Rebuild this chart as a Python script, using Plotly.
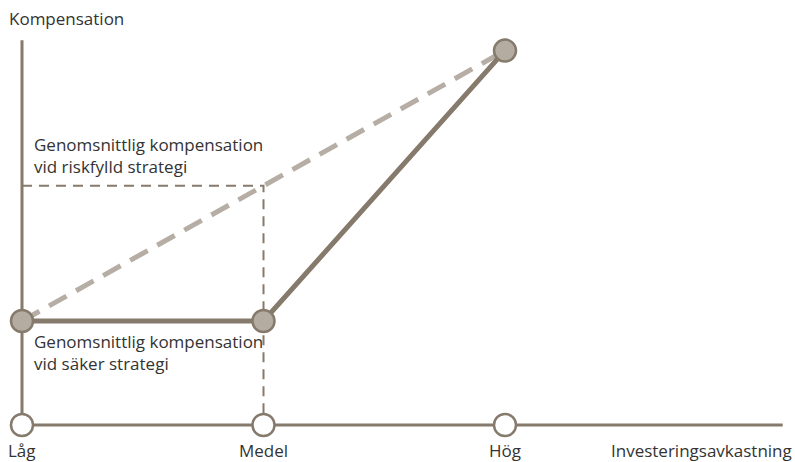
import plotly.graph_objects as go

categories = ["Låg", "Medel", "Hög"]
cat_x = [0, 1, 2]
compensation = [1.0, 1.0, 3.6]          # payout curve (solid)
risky_ends_x = [0, 2]
risky_ends_y = [1.0, 3.6]               # risky strategy outcomes (dashed)
avg_risky = (risky_ends_y[0] + risky_ends_y[1]) / 2
avg_safe = compensation[1]

axis_x_max = 3.15
axis_y_max = 3.7

DARK = "#857a6c"
LIGHT = "#b6aea4"
FILL = "#b5aca1"
TXT = "#333333"
FONT = "Open Sans"

fig = go.Figure()

# guides
fig.add_trace(go.Scatter(x=[0, 1, 1], y=[avg_risky, avg_risky, 0], mode="lines",
                         line=dict(color=DARK, width=2, dash="10px,7px"), hoverinfo="skip"))
# risky dashed
fig.add_trace(go.Scatter(x=risky_ends_x, y=risky_ends_y, mode="lines",
                         line=dict(color=LIGHT, width=5, dash="20px,11px"), hoverinfo="skip"))
# axes
fig.add_trace(go.Scatter(x=[0, 0], y=[axis_y_max, 0], mode="lines",
                         line=dict(color=DARK, width=3), hoverinfo="skip"))
fig.add_trace(go.Scatter(x=[0, axis_x_max], y=[0, 0], mode="lines",
                         line=dict(color=DARK, width=3), hoverinfo="skip"))
# compensation curve
fig.add_trace(go.Scatter(x=cat_x, y=compensation, mode="lines",
                         line=dict(color=DARK, width=5), hoverinfo="skip"))
fig.add_trace(go.Scatter(x=cat_x, y=compensation, mode="markers",
                         marker=dict(size=22, color=FILL, line=dict(color=DARK, width=2.5)),
                         hoverinfo="skip"))
# category markers on x axis
fig.add_trace(go.Scatter(x=cat_x, y=[0] * len(cat_x), mode="markers",
                         marker=dict(size=22, color="white", line=dict(color=DARK, width=2.5)),
                         hoverinfo="skip"))

ann = []
for xv, lab in zip(cat_x, categories):
    ann.append(dict(x=xv, y=0, yshift=-25, text=lab, showarrow=False,
                    xanchor="center", yanchor="middle"))
ann.append(dict(x=axis_x_max, y=0, yshift=-25, xshift=11, text="Investeringsavkastning",
                showarrow=False, xanchor="right", yanchor="middle"))
ann.append(dict(x=0, y=axis_y_max, xshift=-15, yshift=22, text="Kompensation",
                showarrow=False, xanchor="left", yanchor="middle"))
ann.append(dict(x=0, y=avg_risky, xshift=10, yshift=6,
                text="Genomsnittlig kompensation<br>vid riskfylld strategi",
                showarrow=False, xanchor="left", yanchor="bottom", align="left"))
ann.append(dict(x=0, y=avg_safe, xshift=10, yshift=-7,
                text="Genomsnittlig kompensation<br>vid säker strategi",
                showarrow=False, xanchor="left", yanchor="top", align="left"))

fig.update_layout(
    width=795, height=462,
    margin=dict(l=0, r=0, t=0, b=0),
    paper_bgcolor="white", plot_bgcolor="white",
    showlegend=False,
    font=dict(family=FONT, size=17, color=TXT),
    xaxis=dict(range=[-22 / 241.5, 773 / 241.5], visible=False, fixedrange=True),
    yaxis=dict(range=[-37 / 104, 425 / 104], visible=False, fixedrange=True),
    annotations=ann,
)
fig.write_html("out.html", config={"displayModeBar": False},
               post_script="document.body.style.margin='0px';")
